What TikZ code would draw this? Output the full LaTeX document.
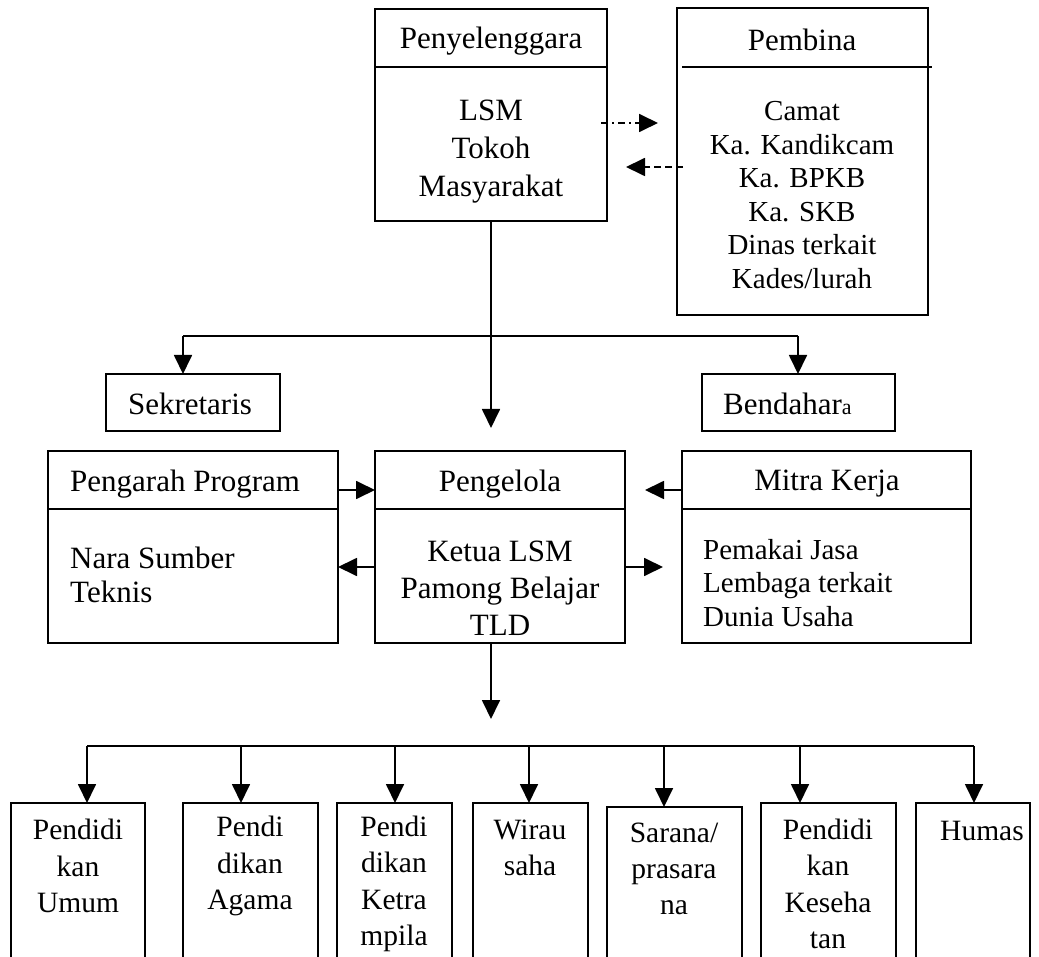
\documentclass[tikz,border=0pt]{standalone}
\usepackage{fontspec}
\setmainfont{Liberation Serif}
\usetikzlibrary{arrows.meta,calc}
\begin{document}
\begin{tikzpicture}[x=1pt,y=-1pt,
  box/.style={draw,line width=1.8pt,rectangle,inner sep=0pt,outer sep=0pt,anchor=north west},
  ln/.style={line width=1.8pt},
  arr/.style={line width=1.8pt,-{Triangle[length=19pt,width=18pt]}},
  darr/.style={line width=1.8pt,-{Triangle[length=19pt,width=18pt]}},
  hd/.style={font=\fontsize{31}{37}\selectfont,inner sep=0pt},
  bodyA/.style={font=\fontsize{31}{38}\selectfont,inner sep=0pt,align=center},
  bodyB/.style={font=\fontsize{29}{33.6}\selectfont,inner sep=0pt,align=center},
  bodyC/.style={font=\fontsize{31}{37}\selectfont,inner sep=0pt,align=center},
  bodyL/.style={font=\fontsize{31}{34}\selectfont,inner sep=0pt,align=left,anchor=west},
  bodyM/.style={font=\fontsize{29}{33.5}\selectfont,inner sep=0pt,align=left,anchor=west},
  bot/.style={font=\fontsize{29.5}{36.3}\selectfont,inner sep=0pt,align=center}
]
\useasboundingbox (0,0) rectangle (1039,957);
\clip (0,0) rectangle (1039,957);

% Penyelenggara
\node[box,minimum width=232pt,minimum height=212pt] (peny) at (375,9) {};
\draw[ln] (peny.west |- 0,67) -- (peny.east |- 0,67);
\node[hd] (penyh) at (491,41) {Penyelenggara};
\node[bodyA] (penyb) at (491,152) {LSM\\Tokoh\\Masyarakat};

% Pembina
\node[box,minimum width=251pt,minimum height=307pt] (pemb) at (677,8) {};
\draw[ln] ([xshift=5pt]pemb.west |- 0,67) -- ([xshift=4pt]pemb.east |- 0,67);
\node[hd] (pembh) at (802,40) {Pembina};
\node[bodyB] (pembb) at (802,195) {Camat\\Ka. Kandikcam\\Ka. BPKB\\Ka. SKB\\Dinas terkait\\Kades/lurah};

% dashed arrows
\coordinate (d1s) at ([xshift=-6pt]peny.east |- 0,123);
\coordinate (d1e) at (658,123);
\draw[darr,dash pattern=on 7pt off 4pt on 2pt off 4pt] (d1s) -- (d1e);
\coordinate (d2s) at ([xshift=6pt]pemb.west |- 0,167);
\coordinate (d2e) at (626,167);
\draw[darr,dash pattern=on 7pt off 4pt] (d2s) -- (d2e);

% Sekretaris / Bendahara
\node[box,minimum width=174pt,minimum height=57pt] (sek) at (106,374) {};
\node[hd] (sekt) at (190,404) {Sekretaris};
\node[box,minimum width=193pt,minimum height=57pt] (bend) at (702,374) {};
\node[hd,anchor=west] (bendt) at (723,404) {Bendahar{\fontsize{22}{22}\selectfont a}};

% central line and branch
\coordinate (cdown) at (peny.south |- 0,428);
\draw[arr] (peny.south) -- (cdown);
\coordinate (brL) at (183,336);
\coordinate (brR) at (798,336);
\draw[ln] (brL) -- (brR);
\draw[arr] (brL) -- (brL |- sek.north);
\draw[arr] (brR) -- (brR |- bend.north);

% Pengarah Program
\node[box,minimum width=290pt,minimum height=192pt] (peng) at (48,451) {};
\draw[ln] (peng.west |- 0,509) -- (peng.east |- 0,509);
\node[hd,anchor=west] (pengh) at (70,484) {Pengarah Program};
\node[bodyL] (pengb) at (70,575) {Nara Sumber\\Teknis};

% Pengelola
\node[box,minimum width=250pt,minimum height=192pt] (pgl) at (375,451) {};
\draw[ln] (pgl.west |- 0,509) -- (pgl.east |- 0,509);
\node[hd] (pglh) at (500,484) {Pengelola};
\node[bodyC] (pglb) at (500,588) {Ketua LSM\\Pamong Belajar\\TLD};

% Mitra Kerja
\node[box,minimum width=289pt,minimum height=192pt] (mitra) at (682,451) {};
\draw[ln] (mitra.west |- 0,509) -- (mitra.east |- 0,509);
\node[hd] (mitrah) at (827,484) {Mitra Kerja};
\node[bodyM] (mitrab) at (703,583) {Pemakai Jasa\\Lembaga terkait\\Dunia Usaha};

% middle arrows
\draw[arr] (peng.east |- 0,490) -- (pgl.west |- 0,490);
\draw[arr] (pgl.west |- 0,567) -- (peng.east |- 0,567);
\coordinate (mtip) at (645,490);
\draw[arr] (mitra.west |- 0,490) -- (mtip);
\coordinate (ptip) at (663,567);
\draw[arr] (pgl.east |- 0,567) -- (ptip);
\coordinate (bdown) at (peny.south |- 0,719);
\draw[arr] (pgl.south -| peny.south) -- (bdown);

% bottom boxes
\node[box,minimum width=134pt,minimum height=200pt] (b1) at (11,803) {};
\node[box,minimum width=135pt,minimum height=200pt] (b2) at (183,803) {};
\node[box,minimum width=115pt,minimum height=200pt] (b3) at (337,803) {};
\node[box,minimum width=115pt,minimum height=200pt] (b4) at (473,803) {};
\node[box,minimum width=135pt,minimum height=200pt] (b5) at (607,807) {};
\node[box,minimum width=135pt,minimum height=200pt] (b6) at (761,803) {};
\node[box,minimum width=114pt,minimum height=200pt] (b7) at (916,803) {};

\node[bot] (t1) at (78,866) {Pendidi\\kan\\Umum};
\node[bot] (t2) at (250,866) {Pendi\\dikan\\Agama};
\node[bot] (t3) at (394,884) {Pendi\\dikan\\Ketra\\mpila};
\node[bot] (t4) at (530,848) {Wirau\\saha};
\node[bot] (t5) at (674,869) {Sarana/\\prasara\\na};
\node[bot] (t6) at (828,884) {Pendidi\\kan\\Keseha\\tan};
\node[bot] (t7) at (982,831) {Humas};

% bottom branch
\coordinate (a1) at (87,746);
\coordinate (a2) at (241,746);
\coordinate (a3) at (395,746);
\coordinate (a4) at (529,746);
\coordinate (a5) at (664,746);
\coordinate (a6) at (800,746);
\coordinate (a7) at (974,746);
\draw[ln] (a1) -- (a7);
\draw[arr] (a1) -- (a1 |- b1.north);
\draw[arr] (a2) -- (a2 |- b2.north);
\draw[arr] (a3) -- (a3 |- b3.north);
\draw[arr] (a4) -- (a4 |- b4.north);
\draw[arr] (a5) -- (a5 |- b5.north);
\draw[arr] (a6) -- (a6 |- b6.north);
\draw[arr] (a7) -- (a7 |- b7.north);
\end{tikzpicture}
\end{document}
